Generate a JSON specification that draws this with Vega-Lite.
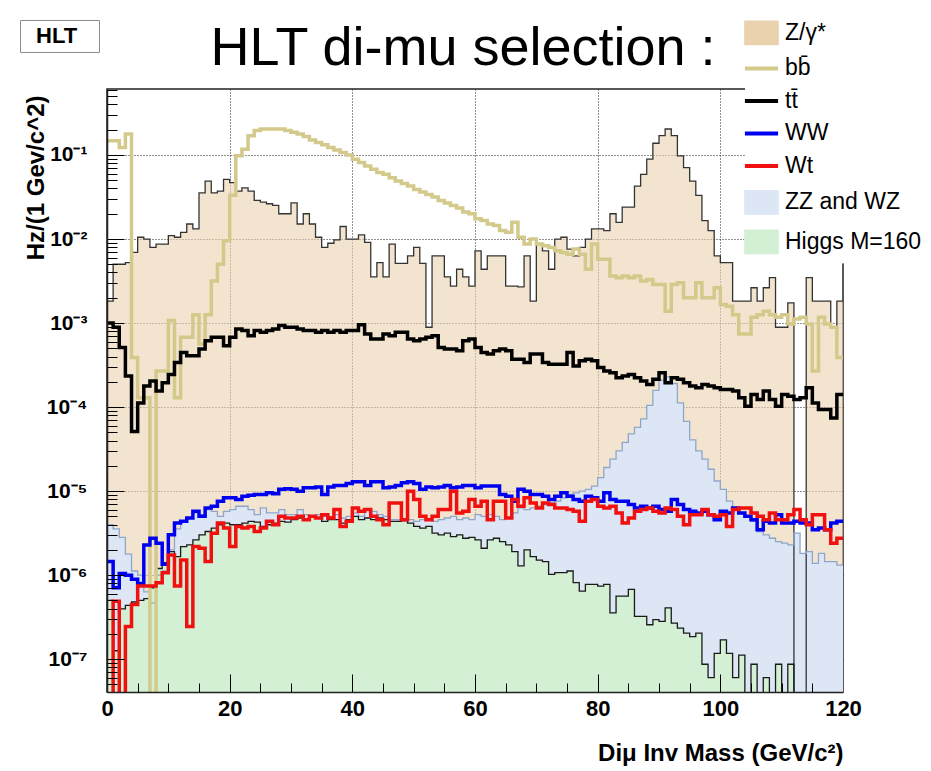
{
  "$schema": "https://vega.github.io/schema/vega-lite/v6.json",
  "width": 736,
  "height": 603,
  "autosize": {"type": "none"},
  "padding": {"left": 107, "top": 89, "right": 88, "bottom": 79},
  "background": "#ffffff",
  "title": {
    "text": "HLT di-mu selection :",
    "font": "Liberation Sans",
    "fontSize": 54,
    "fontWeight": "normal",
    "color": "#000000",
    "anchor": "middle",
    "frame": "group",
    "baseline": "alphabetic",
    "offset": -102.6,
    "dx": -12
  },
  "data": {
    "values": [
      {"m":0,"z":1.82e-3,"bb":0.148,"tt":1.0e-3,"ww":1.45e-6,"wt":1e-9,"zz":3.98e-6,"h":5.01e-7},
      {"m":1,"z":5.01e-3,"bb":0.148,"tt":8.91e-4,"ww":7.08e-7,"wt":4.9e-7,"zz":3.55e-6,"h":1.26e-7},
      {"m":2,"z":5.01e-3,"bb":0.123,"tt":5.13e-4,"ww":1.05e-6,"wt":1e-9,"zz":2.82e-6,"h":3.98e-7},
      {"m":3,"z":5.25e-3,"bb":0.178,"tt":2.34e-4,"ww":1.0e-6,"wt":2.45e-7,"zz":1.78e-6,"h":4.37e-7},
      {"m":4,"z":6.92e-3,"bb":3.89e-4,"tt":5.13e-5,"ww":8.91e-7,"wt":4.47e-7,"zz":1.12e-6,"h":4.79e-7},
      {"m":5,"z":1.05e-2,"bb":1.29e-4,"tt":1.12e-4,"ww":7.94e-7,"wt":7.41e-7,"zz":1.0e-6,"h":5.01e-7},
      {"m":6,"z":1.0e-2,"bb":1.29e-4,"tt":1.78e-4,"ww":2.29e-6,"wt":7.41e-7,"zz":6.31e-7,"h":5.25e-7},
      {"m":7,"z":7.94e-3,"bb":1e-9,"tt":2.04e-4,"ww":2.75e-6,"wt":7.41e-7,"zz":4.68e-7,"h":7.08e-7},
      {"m":8,"z":8.71e-3,"bb":2.69e-4,"tt":1.55e-4,"ww":2.4e-6,"wt":8.13e-7,"zz":1.0e-6,"h":1.2e-6},
      {"m":9,"z":8.71e-3,"bb":2.69e-4,"tt":1.95e-4,"ww":1.35e-6,"wt":1.07e-6,"zz":1.12e-6,"h":1.41e-6},
      {"m":10,"z":1.1e-2,"bb":1.07e-3,"tt":2.45e-4,"ww":3.02e-6,"wt":1.74e-6,"zz":2.0e-6,"h":1.91e-6},
      {"m":11,"z":1.05e-2,"bb":1.29e-4,"tt":3.39e-4,"ww":4.17e-6,"wt":7.41e-7,"zz":3.55e-6,"h":1.66e-6},
      {"m":12,"z":1.2e-2,"bb":6.76e-4,"tt":4.47e-4,"ww":4.37e-6,"wt":1.51e-6,"zz":4.37e-6,"h":2.19e-6},
      {"m":13,"z":1.51e-2,"bb":6.76e-4,"tt":4.07e-4,"ww":4.79e-6,"wt":2.45e-7,"zz":4.79e-6,"h":2.29e-6},
      {"m":14,"z":1.32e-2,"bb":1.26e-3,"tt":4.07e-4,"ww":5.75e-6,"wt":2.19e-6,"zz":5.5e-6,"h":2.63e-6},
      {"m":15,"z":3.55e-2,"bb":5.62e-4,"tt":4.9e-4,"ww":5.01e-6,"wt":2.09e-6,"zz":5.25e-6,"h":3.02e-6},
      {"m":16,"z":4.9e-2,"bb":1.26e-3,"tt":6.17e-4,"ww":6.31e-6,"wt":1.45e-6,"zz":6.03e-6,"h":3.31e-6},
      {"m":17,"z":3.55e-2,"bb":3.16e-3,"tt":6.76e-4,"ww":6.61e-6,"wt":3.16e-6,"zz":5.75e-6,"h":3.63e-6},
      {"m":18,"z":3.72e-2,"bb":5.01e-3,"tt":6.76e-4,"ww":7.59e-6,"wt":4.17e-6,"zz":5.01e-6,"h":3.98e-6},
      {"m":19,"z":5.13e-2,"bb":9.55e-3,"tt":5.37e-4,"ww":8.32e-6,"wt":3.63e-6,"zz":5.75e-6,"h":4.17e-6},
      {"m":20,"z":4.68e-2,"bb":3.31e-2,"tt":6.76e-4,"ww":8.32e-6,"wt":2.19e-6,"zz":6.03e-6,"h":3.98e-6},
      {"m":21,"z":3.72e-2,"bb":9.77e-2,"tt":8.51e-4,"ww":7.94e-6,"wt":3.8e-6,"zz":6.61e-6,"h":3.98e-6},
      {"m":22,"z":4.07e-2,"bb":0.117,"tt":8.13e-4,"ww":8.71e-6,"wt":3.63e-6,"zz":6.61e-6,"h":4.17e-6},
      {"m":23,"z":3.72e-2,"bb":0.17,"tt":7.08e-4,"ww":8.91e-6,"wt":3.8e-6,"zz":6.03e-6,"h":4.37e-6},
      {"m":24,"z":2.88e-2,"bb":0.195,"tt":8.13e-4,"ww":9.12e-6,"wt":3.31e-6,"zz":5.25e-6,"h":4.27e-6},
      {"m":25,"z":2.75e-2,"bb":0.204,"tt":7.76e-4,"ww":9.12e-6,"wt":3.63e-6,"zz":6.31e-6,"h":3.8e-6},
      {"m":26,"z":2.63e-2,"bb":0.204,"tt":8.13e-4,"ww":9.55e-6,"wt":4.37e-6,"zz":5.5e-6,"h":3.98e-6},
      {"m":27,"z":2.51e-2,"bb":0.204,"tt":8.51e-4,"ww":9.33e-6,"wt":3.98e-6,"zz":5.5e-6,"h":4.17e-6},
      {"m":28,"z":2.0e-2,"bb":0.204,"tt":9.33e-4,"ww":1.05e-5,"wt":5.01e-6,"zz":6.03e-6,"h":4.37e-6},
      {"m":29,"z":2.0e-2,"bb":0.195,"tt":8.91e-4,"ww":1.07e-5,"wt":4.79e-6,"zz":5.25e-6,"h":4.27e-6},
      {"m":30,"z":2.69e-2,"bb":0.186,"tt":8.91e-4,"ww":1.05e-5,"wt":4.79e-6,"zz":5.25e-6,"h":4.57e-6},
      {"m":31,"z":1.51e-2,"bb":0.178,"tt":8.51e-4,"ww":1.0e-5,"wt":5.01e-6,"zz":6.03e-6,"h":4.79e-6},
      {"m":32,"z":2.0e-2,"bb":0.166,"tt":8.13e-4,"ww":1.1e-5,"wt":4.57e-6,"zz":5.25e-6,"h":4.57e-6},
      {"m":33,"z":1.51e-2,"bb":0.151,"tt":8.13e-4,"ww":1.1e-5,"wt":5.01e-6,"zz":5.01e-6,"h":5.01e-6},
      {"m":34,"z":1.05e-2,"bb":0.141,"tt":7.76e-4,"ww":1.12e-5,"wt":4.79e-6,"zz":5.25e-6,"h":4.79e-6},
      {"m":35,"z":7.94e-3,"bb":0.132,"tt":8.13e-4,"ww":9.12e-6,"wt":5.25e-6,"zz":5.01e-6,"h":4.37e-6},
      {"m":36,"z":8.91e-3,"bb":0.123,"tt":7.76e-4,"ww":1.12e-5,"wt":4.79e-6,"zz":5.01e-6,"h":4.57e-6},
      {"m":37,"z":9.77e-3,"bb":0.115,"tt":8.13e-4,"ww":1.17e-5,"wt":6.03e-6,"zz":5.25e-6,"h":4.57e-6},
      {"m":38,"z":1.41e-2,"bb":0.107,"tt":7.76e-4,"ww":1.17e-5,"wt":3.8e-6,"zz":4.79e-6,"h":4.17e-6},
      {"m":39,"z":1.0e-2,"bb":0.1,"tt":8.13e-4,"ww":1.23e-5,"wt":4.37e-6,"zz":5.01e-6,"h":4.57e-6},
      {"m":40,"z":1.0e-2,"bb":8.91e-2,"tt":8.13e-4,"ww":1.29e-5,"wt":6.31e-6,"zz":5.5e-6,"h":5.01e-6},
      {"m":41,"z":1.12e-2,"bb":8.13e-2,"tt":9.55e-4,"ww":1.29e-5,"wt":5.75e-6,"zz":5.01e-6,"h":4.57e-6},
      {"m":42,"z":9.12e-3,"bb":7.41e-2,"tt":7.41e-4,"ww":1.17e-5,"wt":6.03e-6,"zz":6.03e-6,"h":4.79e-6},
      {"m":43,"z":3.55e-3,"bb":6.76e-2,"tt":6.46e-4,"ww":1.29e-5,"wt":5.01e-6,"zz":5.75e-6,"h":4.57e-6},
      {"m":44,"z":5.25e-3,"bb":6.17e-2,"tt":6.46e-4,"ww":1.29e-5,"wt":4.57e-6,"zz":5.25e-6,"h":4.79e-6},
      {"m":45,"z":3.55e-3,"bb":5.89e-2,"tt":7.41e-4,"ww":1.1e-5,"wt":3.98e-6,"zz":5.01e-6,"h":4.57e-6},
      {"m":46,"z":8.71e-3,"bb":5.37e-2,"tt":7.08e-4,"ww":1.12e-5,"wt":7.24e-6,"zz":4.57e-6,"h":4.37e-6},
      {"m":47,"z":5.13e-3,"bb":4.9e-2,"tt":7.76e-4,"ww":1.17e-5,"wt":7.24e-6,"zz":4.57e-6,"h":4.37e-6},
      {"m":48,"z":5.13e-3,"bb":4.57e-2,"tt":7.76e-4,"ww":1.26e-5,"wt":4.57e-6,"zz":4.37e-6,"h":4.57e-6},
      {"m":49,"z":6.31e-3,"bb":4.27e-2,"tt":6.46e-4,"ww":1.29e-5,"wt":1.0e-5,"zz":4.57e-6,"h":4.17e-6},
      {"m":50,"z":7.94e-3,"bb":3.89e-2,"tt":6.17e-4,"ww":1.23e-5,"wt":7.94e-6,"zz":4.37e-6,"h":3.8e-6},
      {"m":51,"z":5.13e-3,"bb":3.63e-2,"tt":6.46e-4,"ww":1.05e-5,"wt":5.01e-6,"zz":4.57e-6,"h":3.63e-6},
      {"m":52,"z":8.91e-4,"bb":3.39e-2,"tt":6.76e-4,"ww":1.12e-5,"wt":4.57e-6,"zz":4.57e-6,"h":3.8e-6},
      {"m":53,"z":6.31e-3,"bb":3.16e-2,"tt":7.08e-4,"ww":1.1e-5,"wt":5.01e-6,"zz":4.37e-6,"h":3.16e-6},
      {"m":54,"z":6.31e-3,"bb":2.88e-2,"tt":5.13e-4,"ww":1.12e-5,"wt":6.03e-6,"zz":4.57e-6,"h":3.02e-6},
      {"m":55,"z":3.55e-3,"bb":2.69e-2,"tt":4.9e-4,"ww":1.17e-5,"wt":6.03e-6,"zz":4.79e-6,"h":3.16e-6},
      {"m":56,"z":2.75e-3,"bb":2.51e-2,"tt":4.9e-4,"ww":1.1e-5,"wt":1.0e-5,"zz":5.01e-6,"h":2.88e-6},
      {"m":57,"z":4.37e-3,"bb":2.34e-2,"tt":4.68e-4,"ww":1.12e-5,"wt":5.5e-6,"zz":4.57e-6,"h":3.02e-6},
      {"m":58,"z":3.55e-3,"bb":2.09e-2,"tt":6.17e-4,"ww":1.17e-5,"wt":5.75e-6,"zz":4.79e-6,"h":2.75e-6},
      {"m":59,"z":2.75e-3,"bb":2.0e-2,"tt":6.46e-4,"ww":1.17e-5,"wt":7.94e-6,"zz":4.57e-6,"h":2.82e-6},
      {"m":60,"z":7.24e-3,"bb":1.74e-2,"tt":5.13e-4,"ww":1.1e-5,"wt":6.61e-6,"zz":5.25e-6,"h":2.63e-6},
      {"m":61,"z":4.37e-3,"bb":1.66e-2,"tt":4.47e-4,"ww":1.15e-5,"wt":7.59e-6,"zz":5.01e-6,"h":2.09e-6},
      {"m":62,"z":6.31e-3,"bb":1.51e-2,"tt":4.27e-4,"ww":1.15e-5,"wt":4.57e-6,"zz":5.25e-6,"h":2.63e-6},
      {"m":63,"z":6.31e-3,"bb":1.45e-2,"tt":4.68e-4,"ww":1.15e-5,"wt":7.59e-6,"zz":5.01e-6,"h":2.75e-6},
      {"m":64,"z":6.31e-3,"bb":1.26e-2,"tt":4.9e-4,"ww":9.12e-6,"wt":7.59e-6,"zz":4.57e-6,"h":2.51e-6},
      {"m":65,"z":2.75e-3,"bb":1.2e-2,"tt":4.68e-4,"ww":8.71e-6,"wt":4.79e-6,"zz":4.79e-6,"h":2.29e-6},
      {"m":66,"z":2.75e-3,"bb":1.58e-2,"tt":3.72e-4,"ww":7.59e-6,"wt":7.94e-6,"zz":5.5e-6,"h":1.91e-6},
      {"m":67,"z":2.69e-3,"bb":1.05e-2,"tt":3.72e-4,"ww":1.05e-5,"wt":6.61e-6,"zz":6.31e-6,"h":1.29e-6},
      {"m":68,"z":6.31e-3,"bb":8.71e-3,"tt":3.39e-4,"ww":1.0e-5,"wt":8.32e-6,"zz":6.03e-6,"h":2.0e-6},
      {"m":69,"z":1.82e-3,"bb":1.0e-2,"tt":4.27e-4,"ww":9.12e-6,"wt":7.24e-6,"zz":6.31e-6,"h":1.66e-6},
      {"m":70,"z":8.71e-3,"bb":8.71e-3,"tt":4.27e-4,"ww":9.12e-6,"wt":6.31e-6,"zz":6.61e-6,"h":1.51e-6},
      {"m":71,"z":7.24e-3,"bb":8.32e-3,"tt":3.39e-4,"ww":8.71e-6,"wt":7.24e-6,"zz":6.92e-6,"h":1.45e-6},
      {"m":72,"z":4.37e-3,"bb":7.94e-3,"tt":3.24e-4,"ww":7.94e-6,"wt":6.92e-6,"zz":7.24e-6,"h":1.02e-6},
      {"m":73,"z":1.0e-2,"bb":7.24e-3,"tt":3.24e-4,"ww":8.71e-6,"wt":6.31e-6,"zz":7.59e-6,"h":1.07e-6},
      {"m":74,"z":1.05e-2,"bb":6.92e-3,"tt":3.24e-4,"ww":9.55e-6,"wt":6.31e-6,"zz":8.32e-6,"h":1.07e-6},
      {"m":75,"z":7.59e-3,"bb":6.61e-3,"tt":4.47e-4,"ww":8.71e-6,"wt":6.03e-6,"zz":9.12e-6,"h":1.12e-6},
      {"m":76,"z":6.31e-3,"bb":7.59e-3,"tt":3.09e-4,"ww":7.94e-6,"wt":5.75e-6,"zz":9.55e-6,"h":8.13e-7},
      {"m":77,"z":7.94e-3,"bb":6.61e-3,"tt":3.55e-4,"ww":7.59e-6,"wt":4.37e-6,"zz":1.0e-5,"h":6.46e-7},
      {"m":78,"z":1.0e-2,"bb":4.37e-3,"tt":3.72e-4,"ww":8.71e-6,"wt":7.59e-6,"zz":1.05e-5,"h":7.76e-7},
      {"m":79,"z":1.32e-2,"bb":8.71e-3,"tt":3.55e-4,"ww":8.32e-6,"wt":7.94e-6,"zz":1.15e-5,"h":7.76e-7},
      {"m":80,"z":1.32e-2,"bb":5.75e-3,"tt":2.95e-4,"ww":7.59e-6,"wt":6.61e-6,"zz":1.45e-5,"h":7.41e-7},
      {"m":81,"z":1.26e-2,"bb":5.75e-3,"tt":2.69e-4,"ww":9.55e-6,"wt":6.31e-6,"zz":1.91e-5,"h":7.76e-7},
      {"m":82,"z":2.0e-2,"bb":3.63e-3,"tt":2.57e-4,"ww":7.94e-6,"wt":6.61e-6,"zz":2.4e-5,"h":3.55e-7},
      {"m":83,"z":1.58e-2,"bb":3.47e-3,"tt":2.24e-4,"ww":7.59e-6,"wt":5.5e-6,"zz":3.02e-5,"h":5.62e-7},
      {"m":84,"z":2.4e-2,"bb":3.63e-3,"tt":2.34e-4,"ww":7.59e-6,"wt":4.17e-6,"zz":3.8e-5,"h":5.62e-7},
      {"m":85,"z":2.4e-2,"bb":3.47e-3,"tt":2.45e-4,"ww":6.92e-6,"wt":4.79e-6,"zz":4.79e-5,"h":6.76e-7},
      {"m":86,"z":4.27e-2,"bb":3.63e-3,"tt":2.24e-4,"ww":6.31e-6,"wt":5.75e-6,"zz":5.75e-5,"h":3.24e-7},
      {"m":87,"z":5.89e-2,"bb":3.16e-3,"tt":2.04e-4,"ww":6.61e-6,"wt":6.03e-6,"zz":7.24e-5,"h":3.24e-7},
      {"m":88,"z":8.91e-2,"bb":3.31e-3,"tt":1.86e-4,"ww":6.31e-6,"wt":6.31e-6,"zz":1.05e-4,"h":2.57e-7},
      {"m":89,"z":0.138,"bb":2.88e-3,"tt":2.14e-4,"ww":6.61e-6,"wt":5.75e-6,"zz":1.58e-4,"h":2.95e-7},
      {"m":90,"z":0.17,"bb":2.88e-3,"tt":2.57e-4,"ww":6.03e-6,"wt":5.5e-6,"zz":2.09e-4,"h":2.82e-7},
      {"m":91,"z":0.204,"bb":1.38e-3,"tt":1.95e-4,"ww":5.75e-6,"wt":6.31e-6,"zz":2.29e-4,"h":4.07e-7},
      {"m":92,"z":0.17,"bb":2.88e-3,"tt":2.24e-4,"ww":7.94e-6,"wt":6.03e-6,"zz":1.91e-4,"h":2.69e-7},
      {"m":93,"z":9.77e-2,"bb":3.02e-3,"tt":2.14e-4,"ww":6.92e-6,"wt":5.01e-6,"zz":1.12e-4,"h":2.34e-7},
      {"m":94,"z":7.08e-2,"bb":2.0e-3,"tt":1.95e-4,"ww":6.03e-6,"wt":3.98e-6,"zz":6.76e-5,"h":2.04e-7},
      {"m":95,"z":4.9e-2,"bb":2.0e-3,"tt":1.78e-4,"ww":5.75e-6,"wt":5.25e-6,"zz":4.07e-5,"h":1.86e-7},
      {"m":96,"z":3.31e-2,"bb":3.02e-3,"tt":1.7e-4,"ww":5.5e-6,"wt":5.25e-6,"zz":3.02e-5,"h":2.04e-7},
      {"m":97,"z":1.66e-2,"bb":2.0e-3,"tt":1.86e-4,"ww":5.75e-6,"wt":6.03e-6,"zz":2.4e-5,"h":8.71e-8},
      {"m":98,"z":1.26e-2,"bb":2.0e-3,"tt":1.78e-4,"ww":5.25e-6,"wt":5.25e-6,"zz":1.82e-5,"h":6.03e-8},
      {"m":99,"z":6.31e-3,"bb":2.63e-3,"tt":1.7e-4,"ww":4.57e-6,"wt":5.01e-6,"zz":1.32e-5,"h":1.17e-7},
      {"m":100,"z":5.25e-3,"bb":1.66e-3,"tt":1.62e-4,"ww":5.75e-6,"wt":5.25e-6,"zz":1.05e-5,"h":1.7e-7},
      {"m":101,"z":5.25e-3,"bb":1.58e-3,"tt":1.62e-4,"ww":5.5e-6,"wt":3.8e-6,"zz":7.59e-6,"h":1.17e-7},
      {"m":102,"z":1.82e-3,"bb":1.26e-3,"tt":1.55e-4,"ww":6.31e-6,"wt":6.03e-6,"zz":6.03e-6,"h":6.03e-8},
      {"m":103,"z":1.82e-3,"bb":7.41e-4,"tt":1.29e-4,"ww":5.5e-6,"wt":6.31e-6,"zz":5.5e-6,"h":1.12e-7},
      {"m":104,"z":1.82e-3,"bb":7.41e-4,"tt":1.02e-4,"ww":5.01e-6,"wt":6.31e-6,"zz":5.01e-6,"h":1e-9},
      {"m":105,"z":2.63e-3,"bb":1.17e-3,"tt":1.41e-4,"ww":4.57e-6,"wt":5.5e-6,"zz":4.37e-6,"h":8.71e-8},
      {"m":106,"z":1.82e-3,"bb":1.26e-3,"tt":1.23e-4,"ww":3.47e-6,"wt":5.01e-6,"zz":3.31e-6,"h":1e-9},
      {"m":107,"z":2.63e-3,"bb":1.38e-3,"tt":1.55e-4,"ww":4.37e-6,"wt":4.57e-6,"zz":3.02e-6,"h":6.03e-8},
      {"m":108,"z":3.47e-3,"bb":1.26e-3,"tt":1.23e-4,"ww":4.17e-6,"wt":5.5e-6,"zz":2.75e-6,"h":1e-9},
      {"m":109,"z":8.91e-4,"bb":1.17e-3,"tt":1.02e-4,"ww":5.25e-6,"wt":4.57e-6,"zz":2.51e-6,"h":8.71e-8},
      {"m":110,"z":8.91e-4,"bb":1.26e-3,"tt":1.41e-4,"ww":4.17e-6,"wt":4.57e-6,"zz":2.4e-6,"h":1e-9},
      {"m":111,"z":1.74e-3,"bb":9.77e-4,"tt":1.35e-4,"ww":4.17e-6,"wt":5.25e-6,"zz":2.29e-6,"h":8.71e-8},
      {"m":112,"z":1e-9,"bb":1.12e-3,"tt":1.23e-4,"ww":4.37e-6,"wt":6.03e-6,"zz":3.16e-6,"h":1e-9},
      {"m":113,"z":1e-9,"bb":1.17e-3,"tt":1.29e-4,"ww":4.17e-6,"wt":4.57e-6,"zz":1.82e-6,"h":1e-9},
      {"m":114,"z":3.47e-3,"bb":9.77e-4,"tt":1.7e-4,"ww":4.17e-6,"wt":3.98e-6,"zz":1.91e-6,"h":1e-9},
      {"m":115,"z":1.82e-3,"bb":2.69e-4,"tt":1.12e-4,"ww":3.47e-6,"wt":5.25e-6,"zz":1.38e-6,"h":1e-9},
      {"m":116,"z":1.82e-3,"bb":1.17e-3,"tt":9.33e-5,"ww":3.63e-6,"wt":5.25e-6,"zz":1.82e-6,"h":1e-9},
      {"m":117,"z":1.82e-3,"bb":9.77e-4,"tt":9.33e-5,"ww":3.47e-6,"wt":3.47e-6,"zz":1.45e-6,"h":1e-9},
      {"m":118,"z":8.91e-4,"bb":8.91e-4,"tt":7.41e-5,"ww":4.17e-6,"wt":2.4e-6,"zz":1.45e-6,"h":1e-9},
      {"m":119,"z":1.82e-3,"bb":3.89e-4,"tt":1.41e-4,"ww":4.37e-6,"wt":2.75e-6,"zz":1.32e-6,"h":1e-9},
      {"m":120,"z":1.82e-3,"bb":3.89e-4,"tt":1.41e-4,"ww":4.37e-6,"wt":2.75e-6,"zz":1.32e-6,"h":1e-9}
    ]
  },
  "layer": [
    {
      "mark": {"type": "area", "interpolate": "step-after", "clip": true, "fillOpacity": 0.6},
      "encoding": {
        "x": {"field": "m", "type": "quantitative", "scale": {"domain": [0, 120], "nice": false, "zero": false},
          "axis": {"orient": "bottom", "values": [0, 20, 40, 60, 80, 100, 120], "grid": true, "gridColor": "#222222", "gridDash": [1, 2], "gridWidth": 1,
            "gridOpacity": {"condition": {"test": "datum.value > 0 && datum.value < 120", "value": 1}, "value": 0},
            "ticks": false, "domain": false, "labelFont": "Liberation Sans", "labelFontWeight": "bold", "labelFontSize": 22, "labelColor": "#000000",
            "labelPadding": 6, "labelFlush": false, "labelOverlap": false,
            "title": "Diμ Inv Mass (GeV/c²)", "titleFont": "Liberation Sans", "titleFontWeight": "bold", "titleFontSize": 24, "titleColor": "#000000",
            "titleAnchor": "end", "titleAlign": "right", "titleBaseline": "alphabetic", "titleX": 736, "titleY": 68, "zindex": 0}},
        "y": {"field": "z", "type": "quantitative", "scale": {"type": "log", "domain": [4.07e-8, 0.61], "nice": false},
          "axis": {"orient": "left", "values": [1e-7, 1e-6, 1e-5, 1e-4, 1e-3, 1e-2, 1e-1], "grid": true, "gridColor": "#222222", "gridDash": [1, 2], "gridWidth": 1,
            "ticks": false, "domain": false,
            "labelExpr": "'10' + ['⁻¹','⁻²','⁻³','⁻⁴','⁻⁵','⁻⁶','⁻⁷'][round(-log(datum.value)/LN10) - 1]",
            "labelFont": "Liberation Sans", "labelFontWeight": "bold", "labelFontSize": 21, "labelColor": "#000000", "labelPadding": 20, "labelOverlap": false,
            "title": "Hz/(1 Gev/c^2)", "titleFont": "Liberation Sans", "titleFontWeight": "bold", "titleFontSize": 24, "titleColor": "#000000",
            "titleAngle": -90, "titleAlign": "right", "titleBaseline": "middle", "titleX": -71, "titleY": 6, "zindex": 0}},
        "y2": {"datum": 1e-9},
        "color": {"datum": "Z/γ*",
          "scale": {"domain": ["Z/γ*", "bb\u0304", "tt\u0304", "WW", "Wt", "ZZ and WZ", "Higgs M=160"],
                    "range": ["#ebd2af", "#d2c98a", "#000000", "#0000f0", "#f01010", "#dce6f5", "#d4f0d4"]},
          "legend": {"orient": "none", "legendX": 638, "legendY": -72.6, "title": null, "padding": 5,
            "fillColor": "#ffffff", "strokeColor": "#ffffff", "rowPadding": 8.5, "symbolSize": 1100, "symbolType": "stroke",
            "labelFont": "Liberation Sans", "labelFontSize": 23, "labelColor": "#000000", "labelOffset": 12, "labelLimit": 300,
            "encode": {"symbols": {"update": {
              "shape": {"signal": "(datum.value === 'Z/γ*' || datum.value === 'ZZ and WZ' || datum.value === 'Higgs M=160') ? 'M-1,-0.7H1V0.7H-1Z' : 'stroke'"},
              "fill": {"signal": "datum.value === 'Z/γ*' ? '#f3e4cf' : datum.value === 'ZZ and WZ' ? '#dde6f5' : datum.value === 'Higgs M=160' ? '#d4f0d4' : 'transparent'"},
              "stroke": {"signal": "datum.value === 'ZZ and WZ' ? '#8ea6cc' : (datum.value === 'Z/γ*' || datum.value === 'Higgs M=160') ? '#222222' : scale('color', datum.value)"},
              "strokeWidth": {"signal": "(datum.value === 'Z/γ*' || datum.value === 'ZZ and WZ' || datum.value === 'Higgs M=160') ? 1.5 : 4"},
              "opacity": {"value": 1},
              "fillOpacity": {"value": 1},
              "strokeOpacity": {"value": 1}
            }}}}}
      }
    },
    {
      "mark": {"type": "area", "interpolate": "step-after", "clip": true},
      "encoding": {
        "x": {"field": "m", "type": "quantitative", "scale": {"domain": [0, 120], "nice": false, "zero": false}, "axis": null},
        "y": {"field": "zz", "type": "quantitative", "scale": {"type": "log", "domain": [4.07e-8, 0.61], "nice": false}, "axis": null},
        "y2": {"datum": 1e-9},
        "color": {"datum": "ZZ and WZ"}
      }
    },
    {
      "mark": {"type": "area", "interpolate": "step-after", "clip": true},
      "encoding": {
        "x": {"field": "m", "type": "quantitative", "scale": {"domain": [0, 120], "nice": false, "zero": false}, "axis": null},
        "y": {"field": "h", "type": "quantitative", "scale": {"type": "log", "domain": [4.07e-8, 0.61], "nice": false}, "axis": null},
        "y2": {"datum": 1e-9},
        "color": {"datum": "Higgs M=160"}
      }
    },
    {
      "mark": {"type": "line", "interpolate": "step-after", "clip": true, "stroke": "#333333", "strokeWidth": 1.3},
      "encoding": {
        "x": {"field": "m", "type": "quantitative", "scale": {"domain": [0, 120], "nice": false, "zero": false}, "axis": null},
        "y": {"field": "z", "type": "quantitative", "scale": {"type": "log", "domain": [4.07e-8, 0.61], "nice": false}, "axis": null},
        "strokeDash": {"datum": "HLT", "scale": {"domain": ["HLT"], "range": [[1, 0]]},
          "legend": {"orient": "none", "legendX": -87, "legendY": -69, "title": null, "padding": 5,
            "fillColor": "#ffffff", "strokeColor": "#8c8c8c", "symbolType": "stroke", "symbolSize": 36, "symbolOpacity": 0, "symbolStrokeWidth": 0,
            "labelFont": "Liberation Sans", "labelFontWeight": "bold", "labelFontSize": 22, "labelColor": "#000000", "labelOffset": -11,
            "labelExpr": "datum.label + '\u2800'"}}
      }
    },
    {
      "mark": {"type": "line", "interpolate": "step-after", "clip": true, "stroke": "#8ea6cc", "strokeWidth": 1.3},
      "encoding": {
        "x": {"field": "m", "type": "quantitative", "scale": {"domain": [0, 120], "nice": false, "zero": false}, "axis": null},
        "y": {"field": "zz", "type": "quantitative", "scale": {"type": "log", "domain": [4.07e-8, 0.61], "nice": false}, "axis": null}
      }
    },
    {
      "mark": {"type": "line", "interpolate": "step-after", "clip": true, "stroke": "#1a1a1a", "strokeWidth": 1.3},
      "encoding": {
        "x": {"field": "m", "type": "quantitative", "scale": {"domain": [0, 120], "nice": false, "zero": false}, "axis": null},
        "y": {"field": "h", "type": "quantitative", "scale": {"type": "log", "domain": [4.07e-8, 0.61], "nice": false}, "axis": null}
      }
    },
    {
      "mark": {"type": "line", "interpolate": "step-after", "clip": true, "strokeWidth": 3.5},
      "encoding": {
        "x": {"field": "m", "type": "quantitative", "scale": {"domain": [0, 120], "nice": false, "zero": false}, "axis": null},
        "y": {"field": "bb", "type": "quantitative", "scale": {"type": "log", "domain": [4.07e-8, 0.61], "nice": false}, "axis": null},
        "color": {"datum": "bb\u0304"}
      }
    },
    {
      "mark": {"type": "line", "interpolate": "step-after", "clip": true, "strokeWidth": 3.5},
      "encoding": {
        "x": {"field": "m", "type": "quantitative", "scale": {"domain": [0, 120], "nice": false, "zero": false},
          "axis": {"orient": "bottom", "values": [20, 40, 60, 80, 100], "grid": false, "labels": false, "ticks": true, "tickSize": -18, "tickColor": "#000000", "tickWidth": 1,
            "domain": true, "domainColor": "#222222", "domainWidth": 1.5, "title": null, "zindex": 1}},
        "y": {"field": "tt", "type": "quantitative", "scale": {"type": "log", "domain": [4.07e-8, 0.61], "nice": false},
          "axis": {"orient": "left", "values": [1e-7, 1e-6, 1e-5, 1e-4, 1e-3, 1e-2, 1e-1], "grid": false, "labels": false, "ticks": true, "tickSize": -17, "tickColor": "#000000", "tickWidth": 1,
            "domain": true, "domainColor": "#222222", "domainWidth": 1.5, "title": null, "zindex": 1}},
        "color": {"datum": "tt\u0304"}
      }
    },
    {
      "mark": {"type": "line", "interpolate": "step-after", "clip": true, "strokeWidth": 3.5},
      "encoding": {
        "x": {"field": "m", "type": "quantitative", "scale": {"domain": [0, 120], "nice": false, "zero": false},
          "axis": {"orient": "bottom", "values": [5, 10, 15, 25, 30, 35, 45, 50, 55, 65, 70, 75, 85, 90, 95, 105, 110, 115], "grid": false, "labels": false, "ticks": true, "tickSize": -9, "tickColor": "#000000", "tickWidth": 1,
            "domain": false, "title": null, "zindex": 1}},
        "y": {"field": "ww", "type": "quantitative", "scale": {"type": "log", "domain": [4.07e-8, 0.61], "nice": false},
          "axis": {"orient": "left", "values": [5e-8, 6e-8, 7e-8, 8e-8, 9e-8, 2e-7, 3e-7, 4e-7, 5e-7, 6e-7, 7e-7, 8e-7, 9e-7, 2e-6, 3e-6, 4e-6, 5e-6, 6e-6, 7e-6, 8e-6, 9e-6, 2e-5, 3e-5, 4e-5, 5e-5, 6e-5, 7e-5, 8e-5, 9e-5, 2e-4, 3e-4, 4e-4, 5e-4, 6e-4, 7e-4, 8e-4, 9e-4, 2e-3, 3e-3, 4e-3, 5e-3, 6e-3, 7e-3, 8e-3, 9e-3, 2e-2, 3e-2, 4e-2, 5e-2, 6e-2, 7e-2, 8e-2, 9e-2, 0.2, 0.3, 0.4, 0.5, 0.6],
            "grid": false, "labels": false, "ticks": true, "tickSize": -10, "tickColor": "#000000", "tickWidth": 1, "domain": false, "title": null, "zindex": 1}},
        "color": {"datum": "WW"}
      }
    },
    {
      "mark": {"type": "line", "interpolate": "step-after", "clip": true, "strokeWidth": 3.5},
      "encoding": {
        "x": {"field": "m", "type": "quantitative", "scale": {"domain": [0, 120], "nice": false, "zero": false}, "axis": null},
        "y": {"field": "wt", "type": "quantitative", "scale": {"type": "log", "domain": [4.07e-8, 0.61], "nice": false}, "axis": null},
        "color": {"datum": "Wt"}
      }
    }
  ],
  "resolve": {"axis": {"x": "independent", "y": "independent"}},
  "config": {
    "font": "Liberation Sans",
    "view": {"stroke": "#222222", "strokeWidth": 1.5}
  }
}
